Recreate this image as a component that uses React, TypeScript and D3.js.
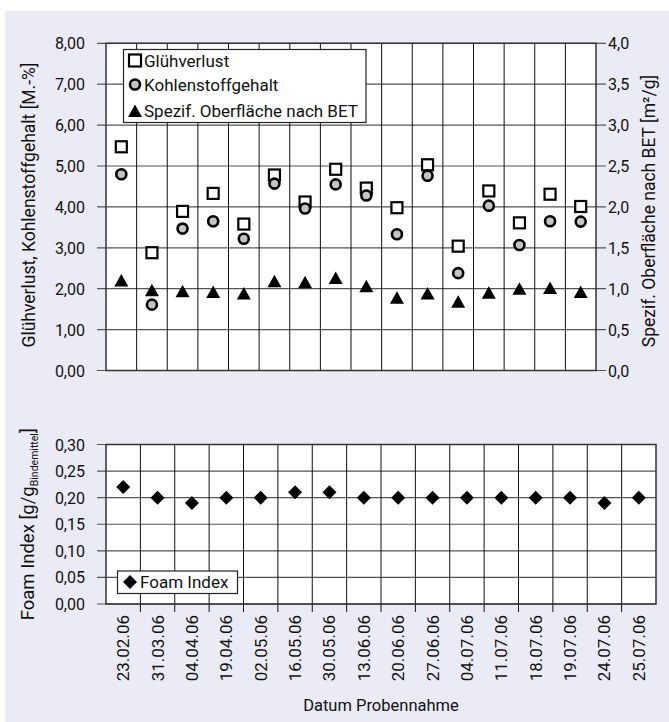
import React from "react"
import * as d3 from "d3"

// sample dates (x categories)
const dates = ["23.02.06", "31.03.06", "04.04.06", "19.04.06", "02.05.06", "16.05.06", "30.05.06", "13.06.06",
  "20.06.06", "27.06.06", "04.07.06", "11.07.06", "18.07.06", "19.07.06", "24.07.06", "25.07.06"]

// left axis [M.-%]
const gluehverlust = [5.47, 2.88, 3.89, 4.33, 3.58, 4.78, 4.12, 4.92, 4.46, 3.98, 5.03, 3.04, 4.39, 3.61, 4.31, 4.01]
const kohlenstoff = [4.8, 1.61, 3.47, 3.65, 3.22, 4.57, 3.96, 4.55, 4.28, 3.33, 4.76, 2.38, 4.03, 3.07, 3.65, 3.64]
// right axis [m²/g]
const betFlaeche = [1.1, 0.98, 0.97, 0.96, 0.94, 1.09, 1.08, 1.13, 1.03, 0.89, 0.94, 0.84, 0.95, 1.0, 1.01, 0.96]
// lower chart
const foamIndex = [0.22, 0.2, 0.19, 0.2, 0.2, 0.21, 0.21, 0.2, 0.2, 0.2, 0.2, 0.2, 0.2, 0.2, 0.19, 0.2]

const leftTicks = [0, 1, 2, 3, 4, 5, 6, 7, 8]
const rightTicks = [0, 0.5, 1, 1.5, 2, 2.5, 3, 3.5, 4]
const foamTicks = [0, 0.05, 0.1, 0.15, 0.2, 0.25, 0.3]

const W = 669
const H = 722
const font = "Roboto, 'Open Sans', sans-serif"
const bg = "#ebebf5"
const ink = "#111"

const de = d3.formatLocale({ decimal: ",", thousands: ".", grouping: [3], currency: ["", " €"] })
const f2 = de.format(".2f")
const f1 = de.format(".1f")

const square = (x: number, y: number, s = 11) => (
  <rect x={x - s / 2} y={y - s / 2} width={s} height={s} fill="#fff" stroke="#000" strokeWidth={2.2} />
)
const circle = (x: number, y: number) => (
  <circle cx={x} cy={y} r={5} fill="#c4c4c4" stroke="#000" strokeWidth={2.6} />
)
const triangle = (x: number, y: number) => (
  <path d={`M${x},${y - 6.5}L${x + 7},${y + 6}L${x - 7},${y + 6}Z`} fill="#000" />
)
const diamond = (x: number, y: number) => (
  <path d={`M${x},${y - 7}L${x + 7},${y}L${x},${y + 7}L${x - 7},${y}Z`} fill="#000" />
)

export default function App() {
  // upper chart
  const top = { l: 106, r: 596, t: 43.3, b: 370.5 }
  const x1 = d3.scaleBand().domain(dates).range([top.l, top.r])
  const yL = d3.scaleLinear().domain([0, 8]).range([top.b, top.t])
  const yR = d3.scaleLinear().domain([0, 4]).range([top.b, top.t])

  // lower chart
  const bot = { l: 106, r: 656, t: 444.5, b: 604 }
  const x2 = d3.scaleBand().domain(dates).range([bot.l, bot.r])
  const yF = d3.scaleLinear().domain([0, 0.3]).range([bot.b, bot.t])

  const cx1 = (d: string) => (x1(d) as number) + x1.bandwidth() / 2
  const cx2 = (d: string) => (x2(d) as number) + x2.bandwidth() / 2
  const botMid = (bot.t + bot.b) / 2

  return (
    <svg width={W} height={H} style={{ position: "absolute", left: 0, top: 0 }} fontFamily={font}>
      <rect x={0} y={0} width={W} height={H} fill="#fff" />
      <rect x={5} y={11} width={W - 5} height={H - 11} fill={bg} />

      {/* ---------- upper chart ---------- */}
      <rect x={top.l} y={top.t} width={top.r - top.l} height={top.b - top.t} fill="#fff" />
      {leftTicks.map(t => (
        <line key={"gl" + t} x1={top.l - 9} x2={top.r + 10} y1={yL(t)} y2={yL(t)} stroke="#555" strokeWidth={1.2} />
      ))}
      {dates.slice(1).map(d => (
        <line key={"gv" + d} x1={x1(d)} x2={x1(d)} y1={top.t} y2={top.b} stroke={ink} strokeWidth={1} />
      ))}
      <rect x={top.l} y={top.t} width={top.r - top.l} height={top.b - top.t} fill="none" stroke="#333" strokeWidth={1.5} />
      {leftTicks.map(t => (
        <text key={"tl" + t} x={85} y={yL(t) + 6} textAnchor="end" fontSize={16} fill={ink}>{f2(t)}</text>
      ))}
      {rightTicks.map(t => (
        <text key={"tr" + t} x={608} y={yR(t) + 6} fontSize={16} fill={ink}>{f1(t)}</text>
      ))}
      <text transform={`translate(35,205) rotate(-90)`} textAnchor="middle" fontSize={17.5} fill={ink}>
        Glühverlust, Kohlenstoffgehalt [M.-%]
      </text>
      <text transform={`translate(655,211) rotate(-90)`} textAnchor="middle" fontSize={17.5} fill={ink}>
        Spezif. Oberfläche nach BET [m²/g]
      </text>

      {dates.map((d, i) => <g key={"s" + d}>{square(cx1(d), yL(gluehverlust[i]))}</g>)}
      {dates.map((d, i) => <g key={"c" + d}>{circle(cx1(d), yL(kohlenstoff[i]))}</g>)}
      {dates.map((d, i) => <g key={"t" + d}>{triangle(cx1(d), yR(betFlaeche[i]))}</g>)}

      {/* legend */}
      <rect x={123.5} y={49.5} width={242.5} height={73} fill="#fff" stroke="#222" strokeWidth={1.2} />
      {square(135, 60.5, 12)}
      <text x={144} y={66.5} fontSize={17} fill={ink}>Glühverlust</text>
      {circle(135, 84.5)}
      <text x={144} y={90.5} fontSize={17} fill={ink}>Kohlenstoffgehalt</text>
      {triangle(135, 111)}
      <text x={144} y={117} fontSize={17} fill={ink}>Spezif. Oberfläche nach BET</text>

      {/* ---------- lower chart ---------- */}
      <rect x={bot.l} y={bot.t} width={bot.r - bot.l} height={bot.b - bot.t} fill="#fff" />
      {foamTicks.map(t => (
        <line key={"fl" + t} x1={bot.l - 9} x2={bot.r} y1={yF(t)} y2={yF(t)} stroke="#555" strokeWidth={1.2} />
      ))}
      {dates.slice(1).map(d => (
        <line key={"fv" + d} x1={x2(d)} x2={x2(d)} y1={bot.t} y2={bot.b + 8} stroke={ink} strokeWidth={1} />
      ))}
      <rect x={bot.l} y={bot.t} width={bot.r - bot.l} height={bot.b - bot.t} fill="none" stroke="#333" strokeWidth={1.5} />
      {foamTicks.map(t => (
        <text key={"ft" + t} x={85} y={yF(t) + 6} textAnchor="end" fontSize={16} fill={ink}>{f2(t)}</text>
      ))}
      <text transform={`translate(34,${botMid}) rotate(-90)`} textAnchor="middle" fontSize={18.5} fill={ink}>
        Foam Index [g/g<tspan fontSize={10.5} dy={4}>Bindemittel</tspan><tspan dy={-4}>]</tspan>
      </text>

      {dates.map((d, i) => <g key={"d" + d}>{diamond(cx2(d), yF(foamIndex[i]))}</g>)}

      <rect x={117.5} y={571} width={120} height={22.5} fill="#fff" stroke="#222" strokeWidth={1.2} />
      {diamond(130, 582)}
      <text x={140} y={588} fontSize={17} fill={ink}>Foam Index</text>

      {dates.map(d => (
        <text key={"x" + d} transform={`translate(${cx2(d) + 6},615) rotate(-90)`} textAnchor="end" fontSize={17} fill={ink}>
          {d}
        </text>
      ))}
      <text x={(bot.l + bot.r) / 2} y={711} textAnchor="middle" fontSize={16.5} fill={ink}>Datum Probennahme</text>
    </svg>
  )
}
